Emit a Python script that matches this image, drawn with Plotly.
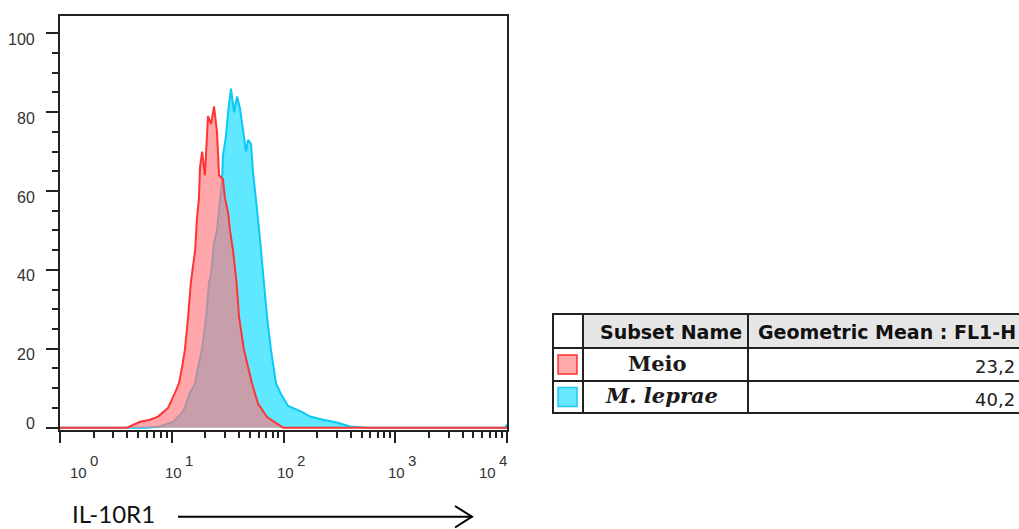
import numpy as np
import plotly.graph_objects as go

W, H = 1019, 529

# ---------------- data ----------------
# Meio (red) histogram: FL1-H intensity vs % of max
meio_x = [1.0, 3.98, 5.20, 6.39, 7.53, 9.26, 10.7, 11.6, 12.4, 13.1, 14.0, 14.8, 15.5,
          16.2, 16.8, 17.5, 17.9, 18.7, 19.8, 21.1, 22.5, 23.9, 25.4, 26.5, 28.7, 30.0,
          31.9, 33.2, 35.3, 38.1, 40.0, 44.3, 52.3, 59.1, 71.2, 87.5, 99.0, 10000]
meio_y = [0, 0, 1.5, 2.0, 2.8, 5.0, 8.9, 11.2, 15.5, 19.7, 28, 36.5, 41,
          45, 53, 58, 66, 70, 64, 79, 77, 81.5, 75, 64, 63, 58,
          54.6, 50, 45, 36.6, 28.1, 19.7, 11.2, 6.1, 2.7, 1.1, 0, 0]

# M. leprae (cyan) histogram
lep_x = [1.0, 6.00, 7.85, 10.3, 12.4, 13.1, 14.6, 16.2, 16.8, 18.7, 20.3, 21.5, 22.5,
         23.4, 23.9, 25.4, 27.0, 28.2, 28.7, 30.6, 31.9, 33.9, 36.1, 38.4, 40.8, 43.4,
         46.2, 48.1, 51.2, 53.3, 56.8, 59.1, 62.9, 66.9, 71.2, 77.3, 85.7, 95.0, 110,
         146, 173, 226, 301, 394, 559, 9600, 10000]
lep_y = [0, 0, 0.3, 1.5, 3.8, 5.2, 9.0, 11.2, 14, 20, 28, 36.6, 39,
         45, 47, 50, 58, 63, 69, 74, 80, 86, 80, 84, 81, 75.5,
         70, 73, 72, 65, 58, 53, 45, 36.6, 28.1, 19.7, 11.2, 8.5, 5.5,
         4, 2.8, 2, 1.3, 0.3, 0, 0, 0.8]

x_ticks = [1, 10, 100, 1000, 10000]
y_ticks = [0, 20, 40, 60, 80, 100]

subset_names = ["<b>Meio</b>", "<b><i>M. leprae</i></b>"]
geo_means = ["23,2", "40,2"]
table_header = ["Subset Name", "Geometric Mean : FL1-H"]
swatch_fill = ["#ffaaaa", "#66e6ff"]
swatch_line = ["#ff3030", "#22c8ee"]
x_title = "IL-10R1"

# ---------------- helpers ----------------
def PX(x):
    return x / W

def PY(y):
    return 1 - y / H

AX = "#222222"

fig = go.Figure()

fig.add_trace(go.Scatter(
    x=lep_x, y=lep_y, mode="lines", fill="tozeroy",
    fillcolor="#5fe8ff", line=dict(color="#0cc8f5", width=2),
    hoverinfo="skip", showlegend=False))

fig.add_trace(go.Scatter(
    x=meio_x, y=meio_y, mode="lines", fill="tozeroy",
    fillcolor="rgba(255,120,126,0.66)", line=dict(color="#ff3535", width=2),
    hoverinfo="skip", showlegend=False))

minor_x = [m * 10 ** k for k in range(4) for m in range(2, 10)]

fig.update_layout(
    width=W, height=H,
    margin=dict(l=0, r=0, t=0, b=0),
    paper_bgcolor="white", plot_bgcolor="white",
    showlegend=False,
    xaxis=dict(
        type="log", range=[0, 4], domain=[PX(60), PX(507)],
        showline=True, linecolor=AX, linewidth=2, mirror=True,
        ticks="outside", ticklen=11, tickwidth=2, tickcolor=AX,
        tickmode="array", tickvals=x_ticks, showticklabels=False,
        showgrid=False, zeroline=False,
        minor=dict(ticks="outside", ticklen=6, tickwidth=1.5, tickcolor=AX,
                   tickmode="array", tickvals=minor_x, showgrid=False),
    ),
    yaxis=dict(
        range=[-0.6, 104.4], domain=[PY(430), PY(16)],
        showline=True, linecolor=AX, linewidth=2, mirror=True,
        ticks="outside", ticklen=12, tickwidth=2, tickcolor=AX,
        tickmode="array", tickvals=y_ticks, showticklabels=False,
        showgrid=False, zeroline=False,
        minor=dict(ticks="outside", ticklen=6, tickwidth=1.5, tickcolor=AX,
                   dtick=5, showgrid=False),
    ),
)

ann = []
shapes = []

# y tick labels
tick_font = dict(family="Liberation Sans", size=16, color="#333333")
for v in y_ticks:
    ann.append(dict(x=PX(37), xref="paper", xanchor="right", y=v, yref="y",
                    yanchor="middle", yshift=(4 if v == 0 else -6),
                    text=str(v), showarrow=False, font=tick_font))

# x tick labels (10 with full-size exponent)
base_shift = [18.5, 1.5, 2, 1, -20]
xfont = dict(family="Liberation Sans", size=15, color="#333333")
for i, v in enumerate(x_ticks):
    lx = float(np.log10(v))
    ann.append(dict(x=lx, xref="x", xshift=base_shift[i], y=PY(472), yref="paper",
                    yanchor="middle", text="10", showarrow=False, font=xfont))
    ann.append(dict(x=lx, xref="x", xshift=base_shift[i] + 15.5, y=PY(460), yref="paper",
                    yanchor="middle", text=str(int(round(lx))), showarrow=False, font=xfont))

# axis title with arrow
ann.append(dict(x=PX(71), xref="paper", xanchor="left", y=0.0, yref="paper",
                yanchor="bottom", text=x_title, showarrow=False, borderpad=0,
                font=dict(family="Lato", size=24, color="#111111")))
shapes += [
    dict(type="line", xref="paper", yref="paper", x0=PX(178), x1=PX(471), y0=PY(516.7), y1=PY(516.7),
         line=dict(color="black", width=2)),
    dict(type="path", xref="paper", yref="paper",
         path=f"M {PX(455)},{PY(506)} L {PX(472)},{PY(516.7)} L {PX(455)},{PY(527.5)}",
         line=dict(color="black", width=2)),
]

# ---------------- statistics table ----------------
col_edges = [553, 583, 748, 1040]
row_edges = [314, 348, 381, 413]

# header background (gray for the named columns)
shapes.append(dict(type="rect", xref="paper", yref="paper", layer="below",
                   x0=PX(col_edges[1]), x1=PX(col_edges[3]), y0=PY(row_edges[1]), y1=PY(row_edges[0]),
                   fillcolor="#e6e6e6", line=dict(width=0)))
for ry in row_edges:
    shapes.append(dict(type="line", xref="paper", yref="paper",
                       x0=PX(col_edges[0] - 1), x1=PX(col_edges[3]), y0=PY(ry), y1=PY(ry),
                       line=dict(color=AX, width=2)))
for cx in col_edges[:3]:
    shapes.append(dict(type="line", xref="paper", yref="paper",
                       x0=PX(cx), x1=PX(cx), y0=PY(row_edges[0]), y1=PY(row_edges[-1]),
                       line=dict(color=AX, width=2)))

hfont = dict(family="DejaVu Sans", size=19, color="#111111")
ann.append(dict(x=PX(671), xref="paper", xanchor="center", y=PY(331.5), yref="paper",
                yanchor="middle", text="<b>" + table_header[0] + "</b>", showarrow=False, font=hfont))
ann.append(dict(x=PX(756), xref="paper", xanchor="left", y=PY(331.5), yref="paper",
                yanchor="middle", text="<b>" + table_header[1] + "</b>", showarrow=False, font=hfont))

name_cx = [657, 661]
for i in range(len(subset_names)):
    top, bot = row_edges[i + 1], row_edges[i + 2]
    mid = (top + bot) / 2
    ann.append(dict(x=PX(name_cx[i]), xref="paper", xanchor="center", y=PY(mid - 1.5), yref="paper",
                    yanchor="middle", text=subset_names[i], showarrow=False,
                    font=dict(family="DejaVu Serif", size=21, color="#1a1a1a")))
    ann.append(dict(x=PX(1017), xref="paper", xanchor="right", y=PY(mid + 2), yref="paper",
                    yanchor="middle", text=geo_means[i], showarrow=False,
                    font=dict(family="DejaVu Sans", size=18, color="#222222")))
    shapes.append(dict(type="rect", xref="paper", yref="paper",
                       x0=PX(558), x1=PX(577), y0=PY(mid + 9.5), y1=PY(mid - 9.5),
                       fillcolor=swatch_fill[i], line=dict(color=swatch_line[i], width=1.5)))

fig.update_layout(annotations=ann, shapes=shapes)

fig.write_html("out.html")
